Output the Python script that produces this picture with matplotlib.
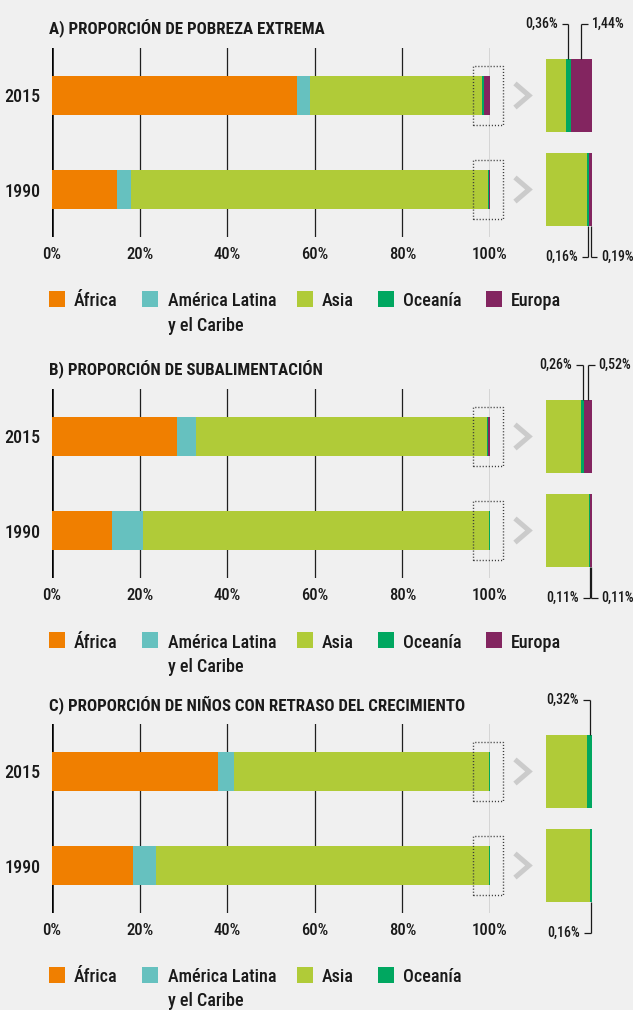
import matplotlib
matplotlib.use("Agg")
import matplotlib.pyplot as plt
from matplotlib import font_manager as fm
from matplotlib.font_manager import FontProperties
from matplotlib.patches import Rectangle

# ---------------------------------------------------------------- data
years = ["1990", "2015"]
region_names = ["África", "América Latina\ny el Caribe", "Asia", "Oceanía", "Europa"]
region_colors = ["#f07f00", "#66c1bf", "#b0cb38", "#00a760", "#832560"]

# share of the world total (%), ordered [1990, 2015]
pobreza_africa = [14.8, 56.0]
pobreza_latam = [3.2, 3.0]
pobreza_asia = [81.65, 39.2]
pobreza_oceania = [0.16, 0.36]
pobreza_europa = [0.19, 1.44]

subal_africa = [13.6, 28.5]
subal_latam = [7.2, 4.3]
subal_asia = [78.98, 66.42]
subal_oceania = [0.11, 0.26]
subal_europa = [0.11, 0.52]

retraso_africa = [18.5, 37.9]
retraso_latam = [5.2, 3.7]
retraso_asia = [76.14, 58.08]
retraso_oceania = [0.16, 0.32]

titles = [
    "A) PROPORCIÓN DE POBREZA EXTREMA",
    "B) PROPORCIÓN DE SUBALIMENTACIÓN",
    "C) PROPORCIÓN DE NIÑOS CON RETRASO DEL CRECIMIENTO",
]
xticks = [0, 20, 40, 60, 80, 100]
xtick_labels = ["0%", "20%", "40%", "60%", "80%", "100%"]

panels = [
    [pobreza_africa, pobreza_latam, pobreza_asia, pobreza_oceania, pobreza_europa],
    [subal_africa, subal_latam, subal_asia, subal_oceania, subal_europa],
    [retraso_africa, retraso_latam, retraso_asia, retraso_oceania],
]

# ---------------------------------------------------------------- fonts
def condensed_family():
    entries = fm.fontManager.ttflist
    names = {f.name for f in entries}
    for fam in ("Roboto Condensed", "Liberation Sans Narrow"):
        if fam in names:
            return {"family": fam}
    for f in entries:
        if f.name == "DejaVu Sans" and f.stretch == "condensed":
            return {"family": "DejaVu Sans", "stretch": "condensed"}
    return {"family": "DejaVu Sans"}

FAM = condensed_family()

def fp(size, bold=False):
    return FontProperties(size=size, weight="bold" if bold else "medium", **FAM)

TXT = "#1a1a1a"
BG = "#f0f0f0"

# ---------------------------------------------------------------- layout helpers (pixels)
W, H = 633, 1010
fig = plt.figure(figsize=(W / 100, H / 100), dpi=100, facecolor=BG)

def rect(l, t, r, b):
    return [l / W, 1 - b / H, (r - l) / W, (b - t) / H]

def fx(x):
    return x / W

def fy(y):
    return 1 - y / H

offsets = [0, 341, 676]
YLIM = (-0.505, 1.505)
BAR_H = 0.415
ZOOM_H = 0.77
ZOOM_XLIM = (96.85, 100.0)
ZOOM_W_PX = 46.0
ypos = [0, 1]

legend_sq_x = [49, 142, 297, 378, 485.5]
legend_tx_x = [74, 168, 322, 403, 511]

for title, series, o in zip(titles, panels, offsets):
    # title
    fig.text(fx(49), fy(34 + o), title, ha="left", va="baseline",
             color=TXT, fontproperties=fp(12.2, bold=True))

    # main stacked bars
    ax = fig.add_axes(rect(52, 48 + o, 490, 237 + o))
    ax.set_facecolor("none")
    ax.set_xlim(0, 100)
    ax.set_ylim(*YLIM)
    for s in ax.spines.values():
        s.set_visible(False)
    ax.set_axisbelow(True)
    ax.grid(axis="x", color="#1f1f1f", lw=0.9)
    ax.grid(axis="y", visible=False)
    ax.axvline(0, color="black", lw=1.8, zorder=0.6)
    ax.set_xticks(xticks)
    ax.set_xticklabels(xtick_labels, fontproperties=fp(12), color=TXT)
    ax.set_yticks(ypos)
    ax.set_yticklabels(years, fontproperties=fp(13), color=TXT)
    ax.tick_params(axis="x", length=0, pad=7)
    ax.tick_params(axis="y", length=0, pad=8.5)

    left = [0.0, 0.0]
    for vals, col in zip(series, region_colors):
        ax.barh(ypos, vals, left=left, height=BAR_H, color=col, lw=0, zorder=2)
        left = [l + v for l, v in zip(left, vals)]

    for yc in ypos:
        # dotted frame around the tail of each bar
        ax.add_patch(Rectangle((96.1, yc - 0.315), 6.8, 0.63, fill=False,
                               ec="#3a3a3a", lw=1.0, ls=(0, (0.8, 1.4)),
                               clip_on=False, zorder=5))
        # chevron pointing to the magnified view
        ax.plot([105.7, 108.9, 105.7], [yc + 0.128, yc, yc - 0.128],
                color="#cbcbcb", lw=3.6, clip_on=False,
                solid_joinstyle="miter", solid_capstyle="butt")

    # magnified tail of the bars
    az = fig.add_axes(rect(546, 48 + o, 592, 237 + o))
    az.set_xlim(*ZOOM_XLIM)
    az.set_ylim(*YLIM)
    az.axis("off")
    left = [0.0, 0.0]
    starts = []
    for vals, col in zip(series, region_colors):
        az.barh(ypos, vals, left=left, height=ZOOM_H, color=col, lw=0)
        starts.append(list(left))
        left = [l + v for l, v in zip(left, vals)]

    ppu = ZOOM_W_PX / (ZOOM_XLIM[1] - ZOOM_XLIM[0])
    stub = 6.5 / ppu
    gap = 4.0 / ppu
    small = series[3:]  # Oceanía (and Europa)
    for yi in ypos:
        top = yi == 1
        y_bar = yi + ZOOM_H / 2 if top else yi - ZOOM_H / 2
        y_lab = 1.76 if top else -0.718
        for k, vals in enumerate(small):
            idx = 3 + k
            v = vals[yi]
            xc = starts[idx][yi] + v / 2
            side = -1 if k == 0 else 1
            az.plot([xc, xc], [y_bar, y_lab], color="#1a1a1a", lw=0.9,
                    clip_on=False, solid_capstyle="butt")
            az.plot([xc, xc + side * stub], [y_lab, y_lab], color="#1a1a1a",
                    lw=0.9, clip_on=False, solid_capstyle="butt")
            label = f"{v:.2f}".replace(".", ",") + "%"
            az.text(xc + side * (stub + gap), y_lab, label,
                    ha="right" if side < 0 else "left", va="center",
                    color=TXT, fontproperties=fp(10), clip_on=False)

    # legend
    for i in range(len(series)):
        sx, tx = legend_sq_x[i], legend_tx_x[i]
        fig.patches.append(Rectangle((fx(sx), fy(291 + o + 16)), 16 / W, 16 / H,
                                     transform=fig.transFigure,
                                     fc=region_colors[i], ec="none"))
        for j, line in enumerate(region_names[i].split("\n")):
            fig.text(fx(tx), fy(306.5 + o + 24 * j), line, ha="left",
                     va="baseline", color=TXT, fontproperties=fp(13))

fig.savefig("out.png", dpi=100, facecolor=BG)
